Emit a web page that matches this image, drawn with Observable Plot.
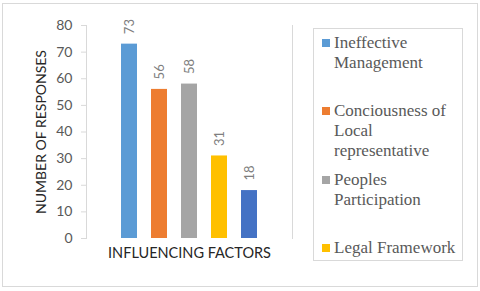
<!DOCTYPE html>
<html>
<head>
<meta charset="utf-8">
<script src="https://cdn.jsdelivr.net/npm/d3@7"></script>
<script src="https://cdn.jsdelivr.net/npm/@observablehq/plot@0.6"></script>
<style>
  html, body { margin: 0; padding: 0; background: #fff; }
  #wrap { position: relative; width: 480px; height: 291px; overflow: hidden; }
  #border { position: absolute; left: 2px; top: 3px; width: 474px; height: 282px; border: 1px solid #d9d9d9; box-sizing: content-box; }
  #plot { position: absolute; left: 0; top: 0; }
  #legend { position: absolute; left: 313px; top: 28px; width: 150px; height: 233px; border: 1px solid #d9d9d9; box-sizing: border-box; }
  .item { position: absolute; left: 8px; width: 135px; font-family: "Liberation Serif", "Times New Roman", serif; font-size: 17px; line-height: 20px; color: #595959; }
  .sw { position: absolute; left: 0; top: 6px; width: 8px; height: 8px; }
  .lbl { position: absolute; left: 12px; top: 0; width: 126px; }
</style>
</head>
<body>
<div id="wrap">
  <div id="border"></div>
  <div id="plot"></div>
  <div id="legend"></div>
</div>
<script>
const categories = ["Ineffective Management", "Conciousness of Local representative", "Peoples Participation", "Legal Framework", "Others"];
const responses = [73, 56, 58, 31, 18];
const colors = ["#5B9BD5", "#ED7D31", "#A5A5A5", "#FFC000", "#4472C4"];
const yTicks = [0, 10, 20, 30, 40, 50, 60, 70, 80];
const legendShown = 4;
const legendTops = [32, 100, 169, 237];

const data = categories.map((c, i) => ({category: c, value: responses[i]}));

const chart = Plot.plot({
  width: 480,
  height: 291,
  marginLeft: 86,
  marginRight: 188,
  marginTop: 25,
  marginBottom: 53,
  style: { fontFamily: "Lato, 'Open Sans', sans-serif", background: "transparent" },
  x: { domain: categories, paddingInner: 0.47, paddingOuter: 1.15 },
  y: { domain: [0, 80] },
  color: { domain: categories, range: colors },
  marks: [
    Plot.frame({ anchor: "left", stroke: "#d9d9d9" }),
    Plot.frame({ anchor: "right", stroke: "#d9d9d9" }),
    Plot.barY(data, { x: "category", y: "value", fill: "category" }),
    Plot.text(data, { x: "category", y: "value", text: d => String(d.value), rotate: -90, textAnchor: "start", dy: -10, fill: "#7f7f7f", fontSize: 13 }),
    Plot.axisY({ ticks: yTicks, tickSize: 5, tickPadding: 9, stroke: "#d9d9d9", color: "#595959", fontSize: 14, label: null }),
    Plot.axisY({ ticks: [], tickSize: 0, label: "NUMBER OF RESPONSES", labelAnchor: "center", labelArrow: "none", labelOffset: 50, fontSize: 14, color: "#262626" }),
    Plot.axisX({ ticks: [], tickSize: 0, label: "INFLUENCING FACTORS", labelAnchor: "center", labelArrow: "none", labelOffset: 19, fontSize: 14.5, color: "#262626" })
  ]
});
document.getElementById("plot").appendChild(chart);

const legend = document.getElementById("legend");
for (let i = 0; i < legendShown; i++) {
  const item = document.createElement("div");
  item.className = "item";
  item.style.top = (legendTops[i] - 28) + "px";
  const sw = document.createElement("div");
  sw.className = "sw";
  sw.style.background = colors[i];
  const lbl = document.createElement("div");
  lbl.className = "lbl";
  lbl.textContent = categories[i];
  item.appendChild(sw);
  item.appendChild(lbl);
  legend.appendChild(item);
}
</script>
</body>
</html>
